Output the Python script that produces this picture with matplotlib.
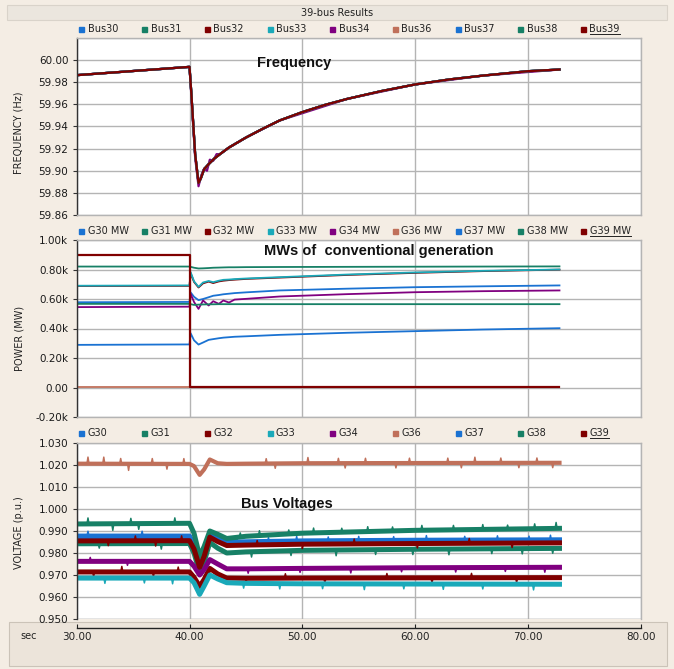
import matplotlib.pyplot as plt
import numpy as np
from matplotlib.lines import Line2D
from matplotlib.patches import Rectangle
from matplotlib.ticker import FuncFormatter, MultipleLocator

W, H = 674, 669

# ---- series styling / labels ----
gen_ids = ["30", "31", "32", "33", "34", "36", "37", "38", "39"]
colors = ["#1a72d2", "#178066", "#800000", "#1aa9b9", "#800080",
          "#c0705a", "#1a72d2", "#178066", "#800000"]
bus_labels = ["Bus" + g for g in gen_ids]
mw_labels = ["G" + g + " MW" for g in gen_ids]
volt_labels = ["G" + g for g in gen_ids]

# ---- frequency (Hz) ----
freq_t = [30.0, 40.0, 40.15, 40.5, 40.8, 41.0, 41.3, 41.7, 42.2, 42.7, 43.5,
          45.0, 46.5, 48.0, 50.0, 52.0, 54.0, 57.0, 60.0, 63.0, 66.0, 70.0, 72.8]
freq_main = [59.9864, 59.9939, 59.972, 59.915, 59.889, 59.893, 59.9015, 59.906,
             59.911, 59.915, 59.921, 59.930, 59.938, 59.9455, 59.953, 59.9595,
             59.965, 59.972, 59.978, 59.9825, 59.986, 59.990, 59.9915]
freq34_t = [30.0, 40.0, 40.15, 40.5, 40.8, 41.05, 41.3, 41.55, 41.8, 42.1, 42.4,
            42.7, 43.5, 45.0, 48.0, 54.0, 60.0, 66.0, 72.8]
freq34 = [59.9864, 59.9939, 59.970, 59.912, 59.886, 59.896, 59.902, 59.900, 59.910,
          59.909, 59.915, 59.915, 59.921, 59.930, 59.9455, 59.965, 59.978, 59.986, 59.9915]

# ---- generator output (MW) ----
mw_t = [30.0, 40.0, 40.1, 40.4, 40.8, 41.2, 41.7, 42.1, 42.6, 43.0, 43.5, 44.0,
        45.0, 48.0, 54.0, 60.0, 66.0, 72.8]
mw_g30 = [578, 580, 645, 615, 592, 600, 612, 622, 627, 632, 636, 640, 645, 658, 670, 680, 686, 692]
mw_g31 = [820, 820, 818, 812, 807, 808, 810, 812, 813, 814, 815, 815, 816, 817, 818, 819, 820, 821]
mw_g32 = [688, 689, 775, 716, 678, 706, 718, 708, 719, 724, 728, 731, 736, 745, 763, 777, 789, 799]
mw_g33 = [690, 692, 782, 720, 682, 712, 722, 714, 724, 730, 732, 735, 739, 748, 766, 780, 791, 800]
mw_g34 = [545, 548, 635, 580, 533, 590, 556, 585, 567, 590, 576, 596, 601, 617, 633, 646, 653, 658]
mw_g36 = [4, 4, 4, 4, 4, 4, 4, 4, 4, 4, 4, 4, 4, 4, 4, 4, 4, 4]
mw_g37 = [289, 292, 368, 320, 291, 305, 323, 328, 334, 338, 341, 344, 347, 357, 371, 382, 393, 402]
mw_g38 = [567, 567, 565, 560, 562, 563, 564, 564, 565, 565, 565, 565, 565, 565, 565, 565, 565, 565]
mw_g39 = [900, 900, 4, 4, 4, 4, 4, 4, 4, 4, 4, 4, 4, 4, 4, 4, 4, 4]

# ---- terminal voltages (p.u.) ----
v_t = [30.0, 40.0, 40.4, 40.9, 41.3, 41.8, 42.5, 43.3, 45.0, 50.0, 60.0, 72.8]
v_g30 = [0.9870, 0.9871, 0.9833, 0.9748, 0.9798, 0.9883, 0.9863, 0.9844, 0.9846, 0.9850, 0.9853, 0.9855]
v_g31 = [0.9842, 0.9843, 0.9800, 0.9710, 0.9760, 0.9848, 0.9822, 0.9800, 0.9805, 0.9812, 0.9817, 0.9821]
v_g32 = [0.9714, 0.9714, 0.9690, 0.9648, 0.9680, 0.9730, 0.9705, 0.9686, 0.9685, 0.9686, 0.9687, 0.9688]
v_g33 = [0.9686, 0.9686, 0.9665, 0.9612, 0.9650, 0.9700, 0.9682, 0.9665, 0.9662, 0.9660, 0.9659, 0.9658]
v_g34 = [0.9762, 0.9762, 0.9740, 0.9700, 0.9725, 0.9770, 0.9750, 0.9728, 0.9728, 0.9730, 0.9733, 0.9735]
v_g36 = [1.0206, 1.0205, 1.0195, 1.0155, 1.0180, 1.0225, 1.0208, 1.0205, 1.0206, 1.0208, 1.0209, 1.0210]
v_g37 = [0.9877, 0.9877, 0.9838, 0.9752, 0.9803, 0.9888, 0.9868, 0.9849, 0.9851, 0.9855, 0.9858, 0.9860]
v_g38 = [0.9932, 0.9935, 0.9890, 0.9785, 0.9830, 0.9900, 0.9885, 0.9866, 0.9876, 0.9890, 0.9903, 0.9912]
v_g39 = [0.9855, 0.9856, 0.9818, 0.9735, 0.9785, 0.9872, 0.9852, 0.9834, 0.9836, 0.9840, 0.9843, 0.9846]

# measurement spikes on each voltage trace: (time, deviation)
sp_g30 = [(44.2, .0024), (47.0, .0022), (49.5, .0026), (52.3, .0022), (55.0, .0024),
          (58.1, .0022), (61.0, .0026), (64.4, .0022), (67.3, .0024), (70.1, .0022), (72.0, .0026)]
sp_g31 = [(32.0, -.002), (37.5, -.0025), (45.5, -.0024), (49.0, -.0022), (53.0, -.0026),
          (56.5, -.0022), (59.8, -.0024), (63.0, -.0026), (66.8, -.0022), (69.5, -.0024), (72.2, -.0022)]
sp_g32 = [(31.5, -.002), (34.0, .0025), (36.8, -.002), (39.0, .0022), (45.0, -.0022),
          (48.5, .002), (52.0, -.0022), (57.5, .002), (61.5, -.0022), (65.0, .002), (69.0, -.0022)]
sp_g33 = [(32.5, -.0024), (36.0, -.0022), (38.5, -.0026), (44.8, -.0022), (48.0, -.0024),
          (51.8, -.0022), (55.5, -.0026), (59.0, -.0022), (62.5, -.0024), (66.0, -.0022), (70.5, -.0026)]
sp_g34 = [(31.2, .0018), (34.5, -.0018), (45.2, -.002), (49.8, -.0018), (54.3, -.0022),
          (58.8, -.0018), (63.6, -.002), (68.0, -.0018), (71.5, -.0022)]
sp_g36 = [(31.0, .003), (32.4, .003), (33.9, .0024), (34.6, -.003), (36.7, .0024),
          (38.0, -.0024), (39.5, .0024), (46.8, .0022), (47.6, -.0022), (50.5, .0026),
          (53.2, .0022), (53.8, -.0022), (55.6, .0022), (58.3, -.0022), (59.5, .0022),
          (62.9, .0022), (64.1, -.0022), (65.3, .0026), (67.6, .0022), (69.2, -.0022),
          (70.8, .0022), (72.2, -.0022)]
sp_g37 = [(31.0, .0022), (33.5, -.0025), (35.8, .0022), (38.2, -.0022)]
sp_g38 = [(31.0, .0027), (33.2, -.003), (34.8, .0024), (35.5, -.0026), (38.7, .0025),
          (44.5, .0018), (46.2, .0022), (48.8, .0018), (51.0, .0022), (53.5, .0018),
          (55.8, .0022), (58.0, .0018), (60.6, .0022), (63.4, .002), (66.0, .0022),
          (68.2, .0018), (70.6, .0022), (72.5, .0027)]
sp_g39 = [(32.8, -.0022), (35.2, .0022), (37.0, -.0024), (39.3, .0022), (46.0, .002),
          (50.0, -.002), (54.6, .0022), (60.2, -.002), (64.8, .0022), (68.6, -.002)]


def with_spikes(t, v, spikes, half=0.09):
    """Insert narrow triangular spikes into a piecewise-linear trace."""
    t = np.asarray(t, float)
    v = np.asarray(v, float)
    pts = list(zip(t, v))
    for ts, dv in spikes:
        base = np.interp([ts - half, ts, ts + half], t, v)
        pts += [(ts - half, base[0]), (ts, base[1] + dv), (ts + half, base[2])]
    pts.sort(key=lambda p: p[0])
    arr = np.array(pts)
    return arr[:, 0], arr[:, 1]


def fx(x):
    return x / W


def fy(y):
    return 1 - y / H


bg = "#f4ede4"
grid_c = "#b4b4b4"
fig = plt.figure(figsize=(W / 100, H / 100), dpi=100, facecolor=bg)

# title bar and the lower axis strip
fig.add_artist(Rectangle((fx(7), fy(20)), fx(667 - 7), 15 / H, transform=fig.transFigure,
                         facecolor="#ebe6de", edgecolor="#d9d3ca", lw=0.8, zorder=0))
fig.add_artist(Rectangle((fx(9), fy(666)), fx(667 - 9), 44 / H, transform=fig.transFigure,
                         facecolor="#ece4da", edgecolor="#cbc3b8", lw=0.8, zorder=0))
fig.text(fx(337), fy(12.5), "39-bus Results", ha="center", va="center", fontsize=7, color="#222222")

left, width = fx(76.7), (640.7 - 76.7) / W
ax1 = fig.add_axes([left, fy(215), width, 177 / H])
ax2 = fig.add_axes([left, fy(417), width, 177 / H], sharex=ax1)
ax3 = fig.add_axes([left, fy(619), width, 176 / H], sharex=ax1)

for ax in (ax1, ax2, ax3):
    ax.set_facecolor("white")
    ax.grid(True, color=grid_c, lw=1.0)
    ax.set_axisbelow(True)
    for s in ("top", "right", "bottom"):
        ax.spines[s].set_color(grid_c)
        ax.spines[s].set_linewidth(1.0)
    ax.spines["left"].set_color("#333333")
    ax.spines["left"].set_linewidth(1.0)
    ax.tick_params(axis="y", direction="out", length=3, width=0.8, pad=3,
                   labelsize=7.5, colors="#333333", labelcolor="#1a1a1a")
    ax.tick_params(axis="x", length=0, labelbottom=False)

ax1.set_xlim(30, 80)
ax1.xaxis.set_major_locator(MultipleLocator(10))

# frequency panel
for i, g in enumerate(gen_ids):
    if g == "34":
        ax1.plot(freq34_t, freq34, color=colors[i], lw=1.6)
    else:
        ax1.plot(freq_t, freq_main, color=colors[i], lw=1.6)
ax1.set_ylim(59.86, 60.02)
ax1.set_yticks(np.arange(59.86, 60.001, 0.02))
ax1.yaxis.set_major_formatter(FuncFormatter(lambda v, p: f"{v:.2f}"))
ax1.axhline(60.02, color=grid_c, lw=1.0, zorder=0)

# power panel
mw_series = [mw_g30, mw_g31, mw_g32, mw_g33, mw_g34, mw_g36, mw_g37, mw_g38, mw_g39]
for i, vals in enumerate(mw_series):
    if gen_ids[i] == "39":
        ax2.step(mw_t, vals, where="pre", color=colors[i], lw=1.6)
    else:
        ax2.plot(mw_t, vals, color=colors[i], lw=1.3)
ax2.set_ylim(-200, 1000)
ax2.set_yticks(np.arange(-200, 1001, 200))


def kfmt(v, p):
    if abs(v) < 1e-9:
        return "0.00"
    return f"{v / 1000:.2f}k"


ax2.yaxis.set_major_formatter(FuncFormatter(kfmt))

# voltage panel: thick band for each trace, thin overlay carries the spikes
v_series = [v_g30, v_g31, v_g32, v_g33, v_g34, v_g36, v_g37, v_g38, v_g39]
sp_series = [sp_g30, sp_g31, sp_g32, sp_g33, sp_g34, sp_g36, sp_g37, sp_g38, sp_g39]
for i, (vals, sp) in enumerate(zip(v_series, sp_series)):
    band = 3.6 if gen_ids[i] != "36" else 3.0
    ax3.plot(v_t, vals, color=colors[i], lw=band, solid_joinstyle="round")
    tt, vv = with_spikes(v_t, vals, sp)
    ax3.plot(tt, vv, color=colors[i], lw=1.1, solid_joinstyle="round")
ax3.set_ylim(0.950, 1.030)
ax3.set_yticks(np.arange(0.95, 1.0301, 0.01))
ax3.yaxis.set_major_formatter(FuncFormatter(lambda v, p: f"{v:.3f}"))

ax3.spines["bottom"].set_position(("outward", 6.5))
ax3.spines["bottom"].set_color("#222222")
ax3.tick_params(axis="x", direction="in", length=3, width=0.8, pad=3, labelbottom=True,
                labelsize=7.5, colors="#222222")
ax3.xaxis.set_major_formatter(FuncFormatter(lambda v, p: f"{v:.2f}"))
ax3.axhline(0.950, color=grid_c, lw=1.0, zorder=0)
fig.text(fx(29), fy(636), "sec", ha="center", va="center", fontsize=7, color="#222222")

# panel titles
title_kw = dict(ha="center", va="center", fontsize=10.5, fontweight="bold",
                family="Liberation Sans", color="#111111")
fig.text(fx(294.5), fy(62.7), "Frequency", **title_kw)
fig.text(fx(378.5), fy(251), "MWs of  conventional generation", **title_kw)
fig.text(fx(286.5), fy(504), "Bus Voltages", **title_kw)

# axis titles
ylab_kw = dict(ha="center", va="center", rotation=90, fontsize=7, color="#222222")
fig.text(fx(19), fy(133), "FREQUENCY (Hz)", **ylab_kw)
fig.text(fx(19), fy(338), "POWER (MW)", **ylab_kw)
fig.text(fx(19), fy(533), "VOLTAGE (p.u.)", **ylab_kw)

# legend rows above each panel
last_texts = []
for row_y, labels in ((29, bus_labels), (231, mw_labels), (433, volt_labels)):
    for k, (lab, c) in enumerate(zip(labels, colors)):
        x0 = 81.4 + 62.7 * k
        fig.add_artist(Line2D([fx(x0)], [fy(row_y)], marker="s", ms=3.6, color=c,
                              transform=fig.transFigure))
        t = fig.text(fx(x0 + 6.5), fy(row_y), lab, ha="left", va="center",
                     fontsize=7, color="#222222")
    last_texts.append(t)

# underline the last legend entry of each row
fig.canvas.draw()
renderer = fig.canvas.get_renderer()
inv = fig.transFigure.inverted()
for t in last_texts:
    bb = t.get_window_extent(renderer)
    (x0, y0), (x1, _) = inv.transform([(bb.x0, bb.y0 + 0.5), (bb.x1, bb.y0)])
    fig.add_artist(Line2D([x0, x1], [y0, y0], color="#222222", lw=0.7,
                          transform=fig.transFigure))

fig.savefig("out.png", dpi=100, facecolor=bg)
